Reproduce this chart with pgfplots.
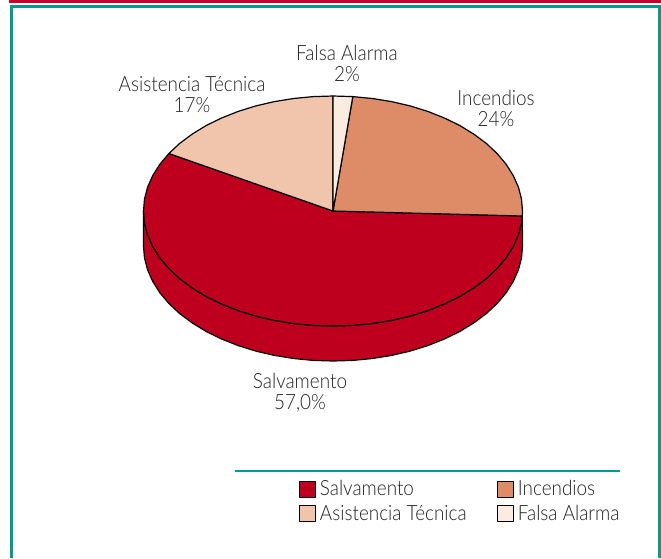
\documentclass[border=0pt]{standalone}
\usepackage{pgfplots}
\pgfplotsset{compat=1.18}
\usepackage{fontspec}
\setmainfont[FakeStretch=0.9]{Lato Light}
\definecolor{salv}{HTML}{BE001E}
\definecolor{incen}{HTML}{DE8C68}
\definecolor{asist}{HTML}{F0C5AB}
\definecolor{falsa}{HTML}{FBEBE1}
\definecolor{tealframe}{HTML}{009B8F}
\definecolor{topred}{HTML}{C8002A}
\definecolor{txt}{HTML}{222222}

\begin{document}
\begin{tikzpicture}
\useasboundingbox (0,0) rectangle (661pt,558pt);
\begin{axis}[
  at={(0,0)}, anchor=south west,
  scale only axis, width=661pt, height=558pt,
  xmin=0, xmax=661, ymin=0, ymax=558, y dir=reverse,
  hide axis, clip=false,
  every axis plot/.append style={draw=black, line width=1.2pt, line join=round},
  legend columns=2,
  legend cell align=left,
  legend style={at={(axis cs:298.5,478.5)}, anchor=north west, draw=none, fill=none,
    font=\fontsize{21}{22}\selectfont\color{txt},
    /tikz/every odd column/.append style={column sep=2pt},
    /tikz/every even column/.append style={column sep=28pt},
    row sep=4pt, inner sep=0pt},
  legend image code/.code={\draw[#1,draw=black,line width=1.2pt] (0pt,-8pt) rectangle (16pt,8pt);},
]
% frame
\draw[topred, line width=3.5pt] (axis cs:9,1.5) -- (axis cs:661,1.5);
\draw[tealframe, line width=3pt] (axis cs:11.5,558) -- (axis cs:11.5,6.5) -- (axis cs:659,6.5) -- (axis cs:659,558);
\draw[tealframe, line width=2.5pt] (axis cs:235,471) -- (axis cs:620,471);

% side wall
\addplot[fill=salv, forget plot] coordinates {
(522.3,216) (521.5,223) (518.4,234.9) (513.2,246.5) (506.1,257.8) (497.1,268.5)
(486.3,278.6) (473.8,287.9) (459.8,296.5) (444.4,304) (427.8,310.6) (410.1,316.1)
(391.6,320.4) (372.4,323.5) (352.8,325.4) (333,326) (313.2,325.4) (293.6,323.5)
(274.4,320.4) (255.9,316.1) (238.2,310.6) (221.6,304) (206.2,296.5) (192.2,287.9)
(179.7,278.6) (168.9,268.5) (159.9,257.8) (152.8,246.5) (147.6,234.9) (144.5,223) (143.5,211)
(143.5,246) (144.5,258) (147.6,269.9) (152.8,281.5) (159.9,292.8) (168.9,303.5)
(179.7,313.6) (192.2,322.9) (206.2,331.5) (221.6,339) (238.2,345.6) (255.9,351.1)
(274.4,355.4) (293.6,358.5) (313.2,360.4) (333,361) (352.8,360.4) (372.4,358.5)
(391.6,355.4) (410.1,351.1) (427.8,345.6) (444.4,339) (459.8,331.5) (473.8,322.9)
(486.3,313.6) (497.1,303.5) (506.1,292.8) (513.2,281.5) (518.4,269.9) (521.5,258) (522.5,246)
(522.3,216)
};

% Salvamento 57
\addplot[fill=salv] coordinates {
(333,211) (522.3,216) (521.5,223) (518.4,234.9) (513.2,246.5) (506.1,257.8) (497.1,268.5)
(486.3,278.6) (473.8,287.9) (459.8,296.5) (444.4,304) (427.8,310.6) (410.1,316.1)
(391.6,320.4) (372.4,323.5) (352.8,325.4) (333,326) (313.2,325.4) (293.6,323.5)
(274.4,320.4) (255.9,316.1) (238.2,310.6) (221.6,304) (206.2,296.5) (192.2,287.9)
(179.7,278.6) (168.9,268.5) (159.9,257.8) (152.8,246.5) (147.6,234.9) (144.5,223) (143.5,211)
(144.5,199) (147.6,187.1) (152.8,175.5) (159.9,164.2) (168.9,153.5) (333,211)
};

% Incendios 24
\addplot[fill=incen] coordinates {
(333,211) (352.8,96.6) (372.4,98.5) (391.6,101.6) (410.1,105.9) (427.8,111.4) (444.4,118)
(459.8,125.5) (473.8,134.1) (486.3,143.4) (497.1,153.5) (506.1,164.2) (513.2,175.5)
(518.4,187.1) (521.5,199) (522.5,211) (522.3,216) (333,211)
};

% Asistencia Tecnica 17
\addplot[fill=asist] coordinates {
(333,211) (168.9,153.5) (179.7,143.4) (192.2,134.1) (206.2,125.5) (221.6,118) (238.2,111.4)
(255.9,105.9) (274.4,101.6) (293.6,98.5) (313.2,96.6) (333,96) (333,211)
};

% Falsa Alarma 2
\addplot[fill=falsa] coordinates {
(333,211) (333,96) (352.8,96.6) (333,211)
};

\legend{Salvamento, Incendios, Asistencia Técnica, Falsa Alarma}

\tikzset{lab/.style={font=\fontsize{21}{21}\selectfont, text=txt, align=center, inner sep=0pt}}
\node[lab] at (axis cs:347,63.5) {Falsa Alarma\\2\%};
\node[lab] at (axis cs:192,94.5) {Asistencia Técnica\\17\%};
\node[lab] at (axis cs:496,108.5) {Incendios\\24\%};
\node[lab] at (axis cs:300,392.5) {Salvamento\\57,0\%};
\end{axis}
\end{tikzpicture}
\end{document}
